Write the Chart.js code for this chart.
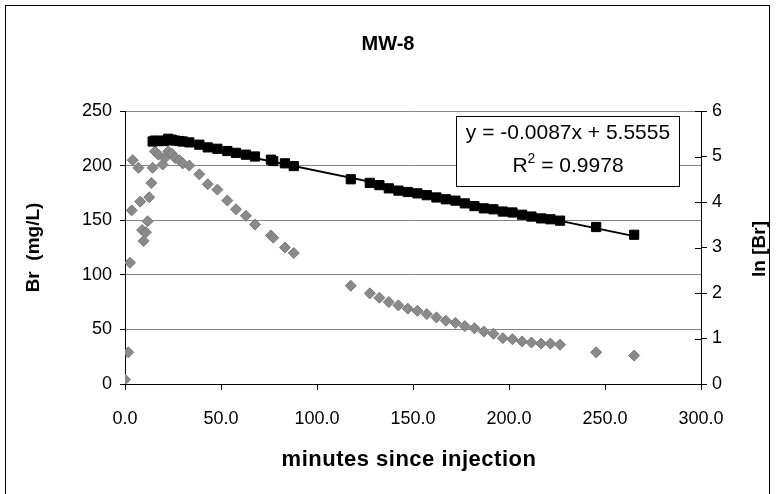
<!DOCTYPE html>
<html>
<head>
<meta charset="utf-8">
<script src="https://cdn.jsdelivr.net/npm/chart.js@4.4.1/dist/chart.umd.min.js"></script>
<style>
  html, body { margin: 0; padding: 0; background: #fff; }
  #wrap { position: relative; width: 776px; height: 494px; }
</style>
</head>
<body>
<div id="wrap"><canvas id="chart" width="776" height="494"></canvas></div>
<script>
// Br concentration (grey diamonds, left axis)
const brMinutes = [0.0, 1.7, 2.6, 3.5, 4.0, 7.0, 7.9, 8.9, 9.7, 10.9, 11.8, 12.6, 13.7,
  14.4, 15.6, 17.4, 19.6, 20.8, 22.5, 24.3, 26.1, 28.3, 30.1, 33.5, 38.7, 43.1, 48.1,
  53.3, 57.8, 63.0, 67.7, 76.0, 77.2, 83.3, 87.9, 117.6, 127.5, 132.5, 137.4, 142.4, 147.3,
  152.3, 157.2, 162.2, 167.1, 172.1, 177.0, 182.0, 186.9, 191.9, 196.8, 201.8, 206.8,
  211.7, 216.7, 221.6, 226.6, 245.4, 265.2];
const brValues = [4, 29, 111, 159, 205, 198, 167, 141, 131, 139, 149, 171, 184,
  198, 213, 210, 201, 207, 213, 211, 207, 205, 202, 200, 192, 183, 178,
  168, 160, 154, 146, 136, 134, 125, 120, 90, 83, 79, 75, 72, 69,
  67, 64, 61, 58, 56, 53, 51, 48, 46, 42, 41, 39,
  38, 37, 37, 36, 29, 26];

// ln[Br] (black squares, right axis)
const lnMinutes = [14.4, 15.6, 17.4, 19.6, 20.8, 22.5, 24.3, 26.1, 28.3, 30.1, 33.5, 38.7,
  43.1, 48.1, 53.3, 57.8, 63.0, 67.7, 76.0, 77.2, 83.3, 87.9, 117.6, 127.5, 132.5, 137.4,
  142.4, 147.3, 152.3, 157.2, 162.2, 167.1, 172.1, 177.0, 182.0, 186.9, 191.9, 196.8,
  201.8, 206.8, 211.7, 216.7, 221.6, 226.6, 245.4, 265.2];
const lnValues = [5.33, 5.35, 5.34, 5.34, 5.35, 5.39, 5.37, 5.35, 5.34, 5.33, 5.31, 5.26,
  5.20, 5.17, 5.12, 5.08, 5.04, 5.00, 4.93, 4.90, 4.85, 4.79, 4.50, 4.42, 4.37, 4.30,
  4.25, 4.22, 4.19, 4.15, 4.10, 4.06, 4.03, 3.97, 3.91, 3.86, 3.84, 3.79,
  3.77, 3.72, 3.68, 3.64, 3.62, 3.59, 3.45, 3.28];

// linear trendline of ln[Br], from first to last sample
const trendMinutes = [14.4, 265.2];
const trendValues = [5.43, 3.25];
const trendLabel = ['y = -0.0087x + 5.5555', '0.9978'];

const xTicks = [0, 50, 100, 150, 200, 250, 300];

const FONT = "Arial, 'Liberation Sans', sans-serif";

function toPoints(xs, ys) {
  return xs.map((x, i) => ({ x: x, y: ys[i] }));
}

// frame, titles and the trendline box
const decor = {
  id: 'decor',
  beforeDraw(chart) {
    const ctx = chart.ctx;
    ctx.save();
    ctx.fillStyle = '#fff';
    ctx.fillRect(0, 0, chart.width, chart.height);
    ctx.strokeStyle = '#000';
    ctx.lineWidth = 1;
    ctx.strokeRect(5.5, 5.5, 764, 520);
    ctx.fillStyle = '#000';
    ctx.textAlign = 'center';
    ctx.textBaseline = 'middle';
    ctx.font = 'bold 20px ' + FONT;
    ctx.fillText('MW-8', 388, 44);

    // x axis title
    ctx.font = 'bold 22px ' + FONT;
    ctx.letterSpacing = '0.5px';
    ctx.fillText('minutes since injection', 409, 460);
    ctx.letterSpacing = '0px';

    // right axis title reads bottom to top
    ctx.save();
    ctx.translate(760, 249);
    ctx.rotate(-Math.PI / 2);
    ctx.font = 'bold 19px ' + FONT;
    ctx.fillText('ln [Br]', 0, 0);
    ctx.restore();
    ctx.restore();
  },
  afterDraw(chart) {
    const ctx = chart.ctx;
    const y1 = chart.scales.y1;
    ctx.save();
    // inner half of the crossing ticks on the right axis
    ctx.strokeStyle = '#000';
    ctx.lineWidth = 1;
    y1.ticks.forEach(t => {
      const py = Math.round(y1.getPixelForValue(t.value)) + 0.5;
      ctx.beginPath();
      ctx.moveTo(y1.left - 6, py);
      ctx.lineTo(y1.left, py);
      ctx.stroke();
    });

    ctx.fillStyle = '#fff';
    ctx.fillRect(456, 116, 223, 70);
    ctx.strokeRect(456.5, 116.5, 223, 70);
    ctx.fillStyle = '#000';
    ctx.font = '21px ' + FONT;
    ctx.textBaseline = 'middle';
    ctx.textAlign = 'center';
    ctx.fillText(trendLabel[0], 568, 133);
    // R² line with a raised 2
    const rest = ' = ' + trendLabel[1];
    const wR = ctx.measureText('R').width;
    ctx.font = '14px ' + FONT;
    const w2 = ctx.measureText('2').width;
    ctx.font = '21px ' + FONT;
    const wRest = ctx.measureText(rest).width;
    let x = 568 - (wR + w2 + wRest) / 2;
    ctx.textAlign = 'left';
    ctx.fillText('R', x, 166);
    x += wR;
    ctx.font = '14px ' + FONT;
    ctx.fillText('2', x, 159);
    x += w2;
    ctx.font = '21px ' + FONT;
    ctx.fillText(rest, x, 166);
    ctx.restore();
  }
};

new Chart(document.getElementById('chart'), {
  type: 'scatter',
  data: {
    datasets: [
      {
        label: 'Br',
        data: toPoints(brMinutes, brValues),
        yAxisID: 'y',
        pointStyle: 'rectRot',
        pointRadius: 5.5,
        backgroundColor: '#8a8a8a',
        borderColor: '#7a7a7a',
        borderWidth: 1,
        order: 3
      },
      {
        label: 'trend',
        type: 'line',
        data: toPoints(trendMinutes, trendValues),
        yAxisID: 'y1',
        borderColor: '#000',
        borderWidth: 2,
        pointRadius: 0,
        fill: false,
        order: 2
      },
      {
        label: 'ln[Br]',
        data: toPoints(lnMinutes, lnValues),
        yAxisID: 'y1',
        pointStyle: 'rect',
        pointRadius: 6.5,
        backgroundColor: '#000',
        borderColor: '#000',
        borderWidth: 1,
        order: 1
      }
    ]
  },
  options: {
    responsive: false,
    animation: false,
    events: [],
    layout: { padding: { top: 111, left: 0, right: 0, bottom: 0 } },
    plugins: {
      legend: { display: false },
      tooltip: { enabled: false }
    },
    scales: {
      x: {
        type: 'linear',
        min: 0,
        max: 300,
        afterFit(scale) { scale.height = 110; },
        afterBuildTicks(scale) { scale.ticks = xTicks.map(v => ({ value: v })); },
        grid: { drawOnChartArea: false, color: '#000', tickLength: 6 },
        border: { color: '#000', width: 1 },
        ticks: {
          color: '#000',
          padding: 18,
          maxRotation: 0,
          font: { family: FONT, size: 18 },
          callback: v => v.toFixed(1)
        }
      },
      y: {
        position: 'left',
        min: 0,
        max: 250,
        afterFit(scale) { scale.width = 125; },
        grid: {
          color: ctx => (ctx.tick && ctx.tick.value === 0 ? 'rgba(0,0,0,0)' : '#868686'),
          tickColor: '#000',
          tickLength: 5
        },
        border: { color: '#000', width: 1 },
        ticks: {
          stepSize: 50,
          color: '#000',
          padding: 8,
          font: { family: FONT, size: 18 }
        },
        title: {
          display: true,
          text: 'Br  (mg/L)',
          color: '#000',
          font: { family: FONT, size: 19, weight: 'bold' },
          padding: { top: 22, bottom: 0 }
        }
      },
      y1: {
        position: 'right',
        min: 0,
        max: 6,
        afterFit(scale) { scale.width = 75; },
        grid: { drawOnChartArea: false, color: '#000', tickLength: 6 },
        border: { color: '#000', width: 1 },
        ticks: {
          stepSize: 1,
          color: '#000',
          padding: 5,
          font: { family: FONT, size: 18 }
        }
      }
    }
  },
  plugins: [decor]
});
</script>
</body>
</html>
